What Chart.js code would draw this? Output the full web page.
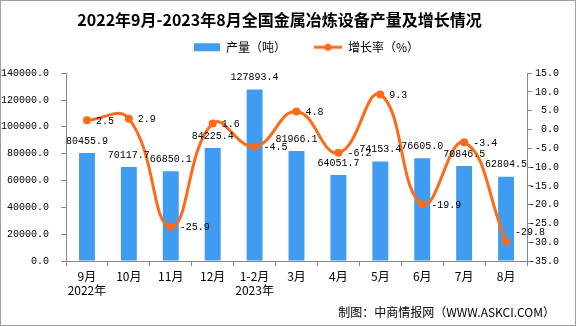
<!DOCTYPE html>
<html lang="zh">
<head>
<meta charset="UTF-8">
<title>金属冶炼设备产量及增长情况</title>
<script src="https://cdn.jsdelivr.net/npm/chart.js"></script>
<style>
    html, body {
        margin: 0;
        padding: 0;
        background: #fff;
    }
</style>
</head>
<body>
<canvas id="chart" width="576" height="326"></canvas>
<script>
    const months = [['9月', '2022年'], '10月', '11月', '12月', ['1-2月', '2023年'], '3月', '4月', '5月', '6月', '7月', '8月'];
    const output = [80455.9, 70117.7, 66850.1, 84225.4, 127893.4, 81966.1, 64051.7, 74153.4, 76605.0, 70846.5, 62804.5];
    const growth = [2.5, 2.9, -25.9, 1.6, -4.5, 4.8, -6.2, 9.3, -19.9, -3.4, -29.8];

    const BLUE = '#3f9cf0';
    const ORANGE = '#ff6a18';
    const CJK = '"Noto Sans CJK SC", sans-serif';
    const MONO = '"Liberation Mono", monospace';

    // legend icons are 46px wide, the left 18px left blank to space the items out
    function legendIcon(draw) {
        const c = document.createElement('canvas');
        c.width = 46;
        c.height = 10;
        draw(c.getContext('2d'));
        return c;
    }
    const barIcon = legendIcon(ctx => {
        ctx.fillStyle = BLUE;
        ctx.fillRect(20, 1, 26, 8);
    });
    const lineIcon = legendIcon(ctx => {
        ctx.strokeStyle = ORANGE;
        ctx.lineWidth = 3;
        ctx.beginPath();
        ctx.moveTo(18, 5);
        ctx.lineTo(46, 5);
        ctx.stroke();
        ctx.fillStyle = ORANGE;
        ctx.beginPath();
        ctx.arc(32, 5, 3.5, 0, Math.PI * 2);
        ctx.fill();
    });

    // empty layout box between legend and plot, gives the gap under the legend
    const spacer = {
        id: 'spacer',
        beforeInit(chart) {
            const box = {
                position: 'top',
                weight: 500,
                fullSize: true,
                options: {},
                isHorizontal: () => true,
                update(maxWidth) {
                    this.width = maxWidth;
                    this.height = 10;
                },
                draw() {}
            };
            Chart.layouts.addBox(chart, box);
        }
    };

    // white background, grey frame and source note
    const frame = {
        id: 'frame',
        beforeDraw(chart) {
            const ctx = chart.ctx;
            ctx.save();
            ctx.fillStyle = '#fff';
            ctx.fillRect(0, 0, chart.width, chart.height);
            ctx.restore();
        },
        afterDraw(chart) {
            const ctx = chart.ctx;
            ctx.save();
            ctx.strokeStyle = '#a0a0a0';
            ctx.lineWidth = 1;
            ctx.strokeRect(0.5, 0.5, chart.width - 1, chart.height - 1);
            ctx.fillStyle = '#000';
            ctx.font = '12px ' + CJK;
            ctx.textAlign = 'right';
            ctx.textBaseline = 'middle';
            ctx.fillText('制图：中商情报网（WWW.ASKCI.COM）', 555, 312);
            ctx.restore();
        }
    };

    // value labels
    const valueLabels = {
        id: 'valueLabels',
        afterDatasetsDraw(chart) {
            const ctx = chart.ctx;
            ctx.save();
            ctx.fillStyle = '#000';
            ctx.font = '10px ' + MONO;
            chart.getDatasetMeta(0).data.forEach((bar, i) => {
                ctx.textAlign = 'center';
                ctx.textBaseline = 'bottom';
                ctx.fillText(output[i].toFixed(1), bar.x, bar.y - 7);
            });
            const last = growth.length - 1;
            chart.getDatasetMeta(1).data.forEach((pt, i) => {
                ctx.textAlign = 'left';
                ctx.textBaseline = 'middle';
                // last label sits a little higher so it clears the point
                const dy = i === last ? -9 : 1;
                ctx.fillText(growth[i].toFixed(1), pt.x + 9, pt.y + dy);
            });
            ctx.restore();
        }
    };

    new Chart(document.getElementById('chart'), {
        data: {
            labels: months,
            datasets: [{
                type: 'bar',
                label: '产量（吨）',
                data: output,
                backgroundColor: BLUE,
                barPercentage: 0.38,
                categoryPercentage: 1,
                yAxisID: 'y',
                order: 1
            }, {
                type: 'line',
                label: '增长率（%）',
                data: growth,
                borderColor: ORANGE,
                backgroundColor: ORANGE,
                borderWidth: 3,
                pointRadius: 4,
                pointBackgroundColor: ORANGE,
                pointBorderWidth: 0,
                tension: 0.45,
                yAxisID: 'y1',
                order: 0
            }]
        },
        options: {
            responsive: false,
            animation: false,
            layout: {
                padding: {top: 0, left: 0, right: 17, bottom: 0}
            },
            plugins: {
                title: {
                    display: true,
                    text: '2022年9月-2023年8月全国金属冶炼设备产量及增长情况',
                    color: '#000',
                    font: {family: CJK, size: 16, weight: 'bold'},
                    padding: {top: 10, bottom: 2}
                },
                legend: {
                    fullSize: false,
                    labels: {
                        usePointStyle: true,
                        pointStyleWidth: 46,
                        padding: 10,
                        color: '#000',
                        font: {family: CJK, size: 12},
                        sort: (a, b) => a.datasetIndex - b.datasetIndex,
                        generateLabels(chart) {
                            const items = Chart.defaults.plugins.legend.labels.generateLabels(chart);
                            items.forEach(it => {
                                it.pointStyle = it.datasetIndex === 0 ? barIcon : lineIcon;
                            });
                            return items;
                        }
                    }
                },
                tooltip: {enabled: false}
            },
            scales: {
                x: {
                    grid: {display: true, drawOnChartArea: false, tickLength: 5, color: '#888'},
                    border: {color: '#888'},
                    ticks: {
                        color: '#000',
                        padding: 3,
                        maxRotation: 0,
                        autoSkip: false,
                        font: {family: CJK, size: 12, lineHeight: '14px'}
                    },
                    afterFit(scale) {
                        scale.height = 65;
                    }
                },
                y: {
                    position: 'left',
                    min: 0,
                    max: 140000,
                    grid: {display: true, drawOnChartArea: false, tickLength: 5, color: '#888'},
                    border: {color: '#888'},
                    ticks: {
                        stepSize: 20000,
                        color: '#000',
                        padding: 12,
                        font: {family: MONO, size: 10},
                        callback: v => v.toFixed(1)
                    },
                    afterFit(scale) {
                        scale.width = 66;
                    }
                },
                y1: {
                    position: 'right',
                    min: -35,
                    max: 15,
                    grid: {display: true, drawOnChartArea: false, tickLength: 5, color: '#888'},
                    border: {color: '#888'},
                    ticks: {
                        stepSize: 5,
                        color: '#000',
                        padding: 0,
                        crossAlign: 'far',
                        font: {family: MONO, size: 10},
                        callback: v => v.toFixed(1)
                    },
                    afterFit(scale) {
                        scale.width = 32;
                    }
                }
            }
        },
        plugins: [spacer, frame, valueLabels]
    });
</script>
</body>
</html>
